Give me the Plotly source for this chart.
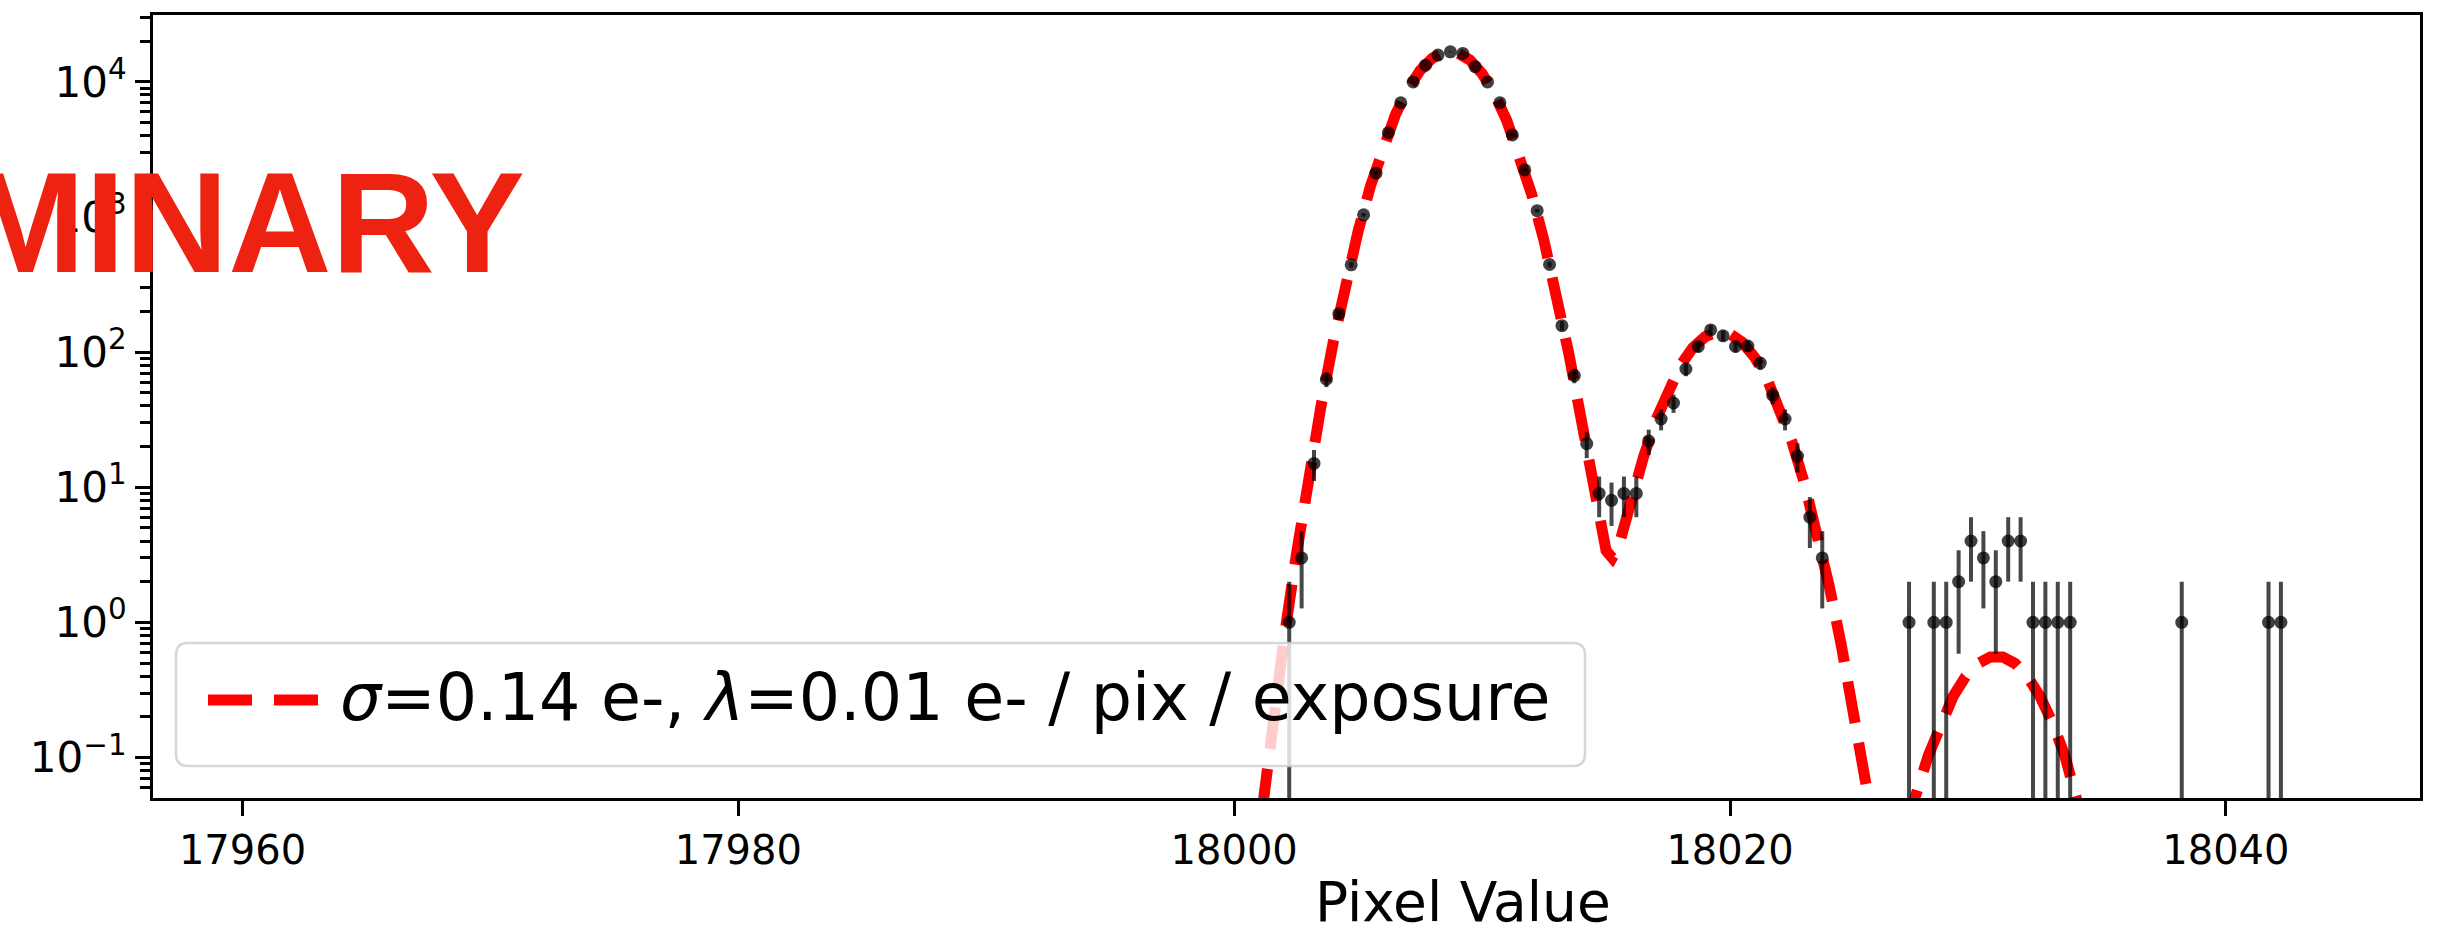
import plotly.graph_objects as go
import numpy as np

# ---------------- data ----------------
pixel_value = [
    18002.22, 18002.72, 18003.22, 18003.72, 18004.22, 18004.72, 18005.22, 18005.72,
    18006.22, 18006.72, 18007.22, 18007.72, 18008.22, 18008.72, 18009.22, 18009.72,
    18010.22, 18010.72, 18011.22, 18011.72, 18012.22, 18012.72, 18013.22, 18013.72,
    18014.22, 18014.72, 18015.22, 18015.72, 18016.22, 18016.72, 18017.22, 18017.72,
    18018.22, 18018.72, 18019.22, 18019.72, 18020.22, 18020.72, 18021.22, 18021.72,
    18022.22, 18022.72, 18023.22, 18023.72,
    18027.22, 18028.22, 18028.72, 18029.22, 18029.72, 18030.22, 18030.72, 18031.22,
    18031.72, 18032.22, 18032.72, 18033.22, 18033.72, 18038.22, 18041.72, 18042.22,
]
counts = [
    1, 3, 15, 63, 192, 443, 1037, 2110,
    4210, 7010, 10000, 13300, 15780, 16680, 16240, 12940,
    10000, 7010, 4050, 2230, 1114, 445, 157, 67,
    21, 9, 8, 9, 9, 22, 32, 42,
    75, 110, 146, 132, 110, 111, 83, 48,
    32, 17, 6, 3,
    1, 1, 1, 2, 4, 3, 2, 4,
    4, 1, 1, 1, 1, 1, 1, 1,
]

fit_x = [
    18000.5, 18001.0, 18001.5, 18002.0, 18002.5, 18003.0, 18003.5, 18004.0,
    18004.5, 18005.0, 18005.5, 18006.0, 18006.5, 18007.0, 18007.5, 18008.0,
    18008.5, 18009.0, 18009.5, 18010.0, 18010.5, 18011.0, 18011.5, 18012.0,
    18012.5, 18013.0, 18013.5, 18014.0, 18014.5, 18014.75, 18015.0, 18015.25,
    18015.5, 18015.75, 18016.0, 18016.5, 18017.0, 18017.5, 18018.0, 18018.5,
    18019.0, 18019.5, 18020.0, 18020.5, 18021.0, 18021.5, 18022.0, 18022.5,
    18023.0, 18023.5, 18024.0, 18024.5, 18025.0, 18025.5, 18026.0, 18026.5,
    18027.0, 18027.5, 18028.0, 18028.5, 18029.0, 18029.5, 18030.0, 18030.5,
    18031.0, 18031.5, 18032.0, 18032.5, 18033.0, 18033.5, 18034.0, 18034.5,
    18035.0,
]
fit_y = [
    0.00498, 0.0294, 0.156, 0.736, 3.11, 11.8, 39.8, 120.0,
    325.0, 787.0, 1702.0, 3289.0, 5690.0, 8795.0, 12170.0, 15040.0,
    16640.0, 16450.0, 14550.0, 11510.0, 8130.0, 5145.0, 2910.0, 1472.0,
    665.0, 269.0, 97.2, 31.6, 9.52, 5.2, 3.4, 3.0,
    3.6, 5.3, 7.91, 16.5, 31.2, 52.7, 79.7, 107.8,
    130.3, 140.9, 136.3, 117.9, 91.2, 63.0, 39.0, 21.6,
    10.7, 4.71, 1.86, 0.659, 0.208, 0.0608, 0.0185, 0.0133,
    0.0249, 0.0531, 0.1037, 0.1814, 0.2836, 0.3965, 0.4958, 0.5545,
    0.5545, 0.4958, 0.3965, 0.2836, 0.1814, 0.1037, 0.0530, 0.0242,
    0.0099,
]

legend_label = "<i>σ</i>=0.14 e-, <i>λ</i>=0.01 e- / pix / exposure"
x_title = "Pixel Value"
watermark = "PRELIMINARY"
y_tickvals = [0.1, 1, 10, 100, 1000, 10000]
y_ticktext = ["10<sup>−1</sup>", "10<sup>0</sup>", "10<sup>1</sup>",
              "10<sup>2</sup>", "10<sup>3</sup>", "10<sup>4</sup>"]

# ---------------- layout geometry (pixels) ----------------
W, H = 2437, 933
ML, MR, MT, MB = 153, 17, 15, 135
PW = W - ML - MR
PH = H - MT - MB


def fx(p):
    return (p - ML) / PW


def fy(p):
    return (H - MB - p) / PH


FONT = "DejaVu Sans"
err = np.sqrt(np.array(counts, dtype=float))

fig = go.Figure()
fig.add_trace(go.Scatter(
    x=fit_x, y=fit_y, mode="lines", name="fit",
    line=dict(color="#ff0000", width=11, dash="42px,20px"),
    showlegend=False,
))
fig.add_trace(go.Scatter(
    x=pixel_value, y=counts, mode="markers", name="data",
    marker=dict(color="rgba(0,0,0,0.75)", size=13, line=dict(width=0)),
    error_y=dict(type="data", array=err, arrayminus=err, symmetric=False,
                 color="rgba(0,0,0,0.72)", thickness=4, width=0),
    showlegend=False,
))

# custom legend box (matplotlib style)
lx0, lx1, ly0, ly1, r = 176, 1585, 643, 766, 12
path = (f"M{fx(lx0 + r)},{fy(ly0)} L{fx(lx1 - r)},{fy(ly0)} "
        f"Q{fx(lx1)},{fy(ly0)} {fx(lx1)},{fy(ly0 + r)} "
        f"L{fx(lx1)},{fy(ly1 - r)} Q{fx(lx1)},{fy(ly1)} {fx(lx1 - r)},{fy(ly1)} "
        f"L{fx(lx0 + r)},{fy(ly1)} Q{fx(lx0)},{fy(ly1)} {fx(lx0)},{fy(ly1 - r)} "
        f"L{fx(lx0)},{fy(ly0 + r)} Q{fx(lx0)},{fy(ly0)} {fx(lx0 + r)},{fy(ly0)} Z")
shapes = [
    dict(type="path", xref="paper", yref="paper", path=path,
         fillcolor="rgba(255,255,255,0.8)", line=dict(color="rgba(204,204,204,0.8)", width=2.5),
         layer="above"),
    dict(type="line", xref="paper", yref="paper",
         x0=fx(208), x1=fx(320), y0=fy(700), y1=fy(700),
         line=dict(color="#ff0000", width=11, dash="44px,22px"), layer="above"),
]

annotations = [
    dict(text=legend_label, xref="paper", yref="paper", x=fx(338), y=fy(697),
         xanchor="left", yanchor="middle", showarrow=False,
         font=dict(family=FONT, size=65, color="black")),
    dict(text=x_title, xref="paper", yref="paper", x=fx(1463), y=fy(902),
         xanchor="center", yanchor="middle", showarrow=False,
         font=dict(family=FONT, size=55, color="black")),
    dict(text=watermark, xref="paper", yref="paper", x=fx(527), y=fy(222),
         xanchor="right", yanchor="middle", showarrow=False,
         font=dict(family="Liberation Sans", size=143, color="#ee2211", weight="bold")),
]

fig.update_layout(
    width=W, height=H,
    margin=dict(l=ML, r=MR, t=MT, b=MB, pad=0),
    paper_bgcolor="white", plot_bgcolor="white",
    font=dict(family=FONT, color="black"),
    shapes=shapes, annotations=annotations,
    xaxis=dict(
        range=[17956.39, 18047.83], tickmode="linear", tick0=17960, dtick=20,
        tickformat="d",
        showgrid=False, zeroline=False,
        showline=True, linecolor="black", linewidth=3, mirror=True,
        ticks="outside", ticklen=15, tickwidth=3, tickcolor="black",
        tickfont=dict(family=FONT, size=40, color="black"),
    ),
    yaxis=dict(
        type="log", range=[-1.30, 4.495],
        tickmode="array", tickvals=y_tickvals, ticktext=y_ticktext,
        showgrid=False, zeroline=False,
        showline=True, linecolor="black", linewidth=3, mirror=True,
        ticks="outside", ticklen=15, tickwidth=3, tickcolor="black",
        tickfont=dict(family=FONT, size=42, color="black"),
        minor=dict(ticks="outside", ticklen=10, tickwidth=2.5, tickcolor="black",
                   dtick="D1", showgrid=False),
    ),
)

fig.write_html("out.html")
